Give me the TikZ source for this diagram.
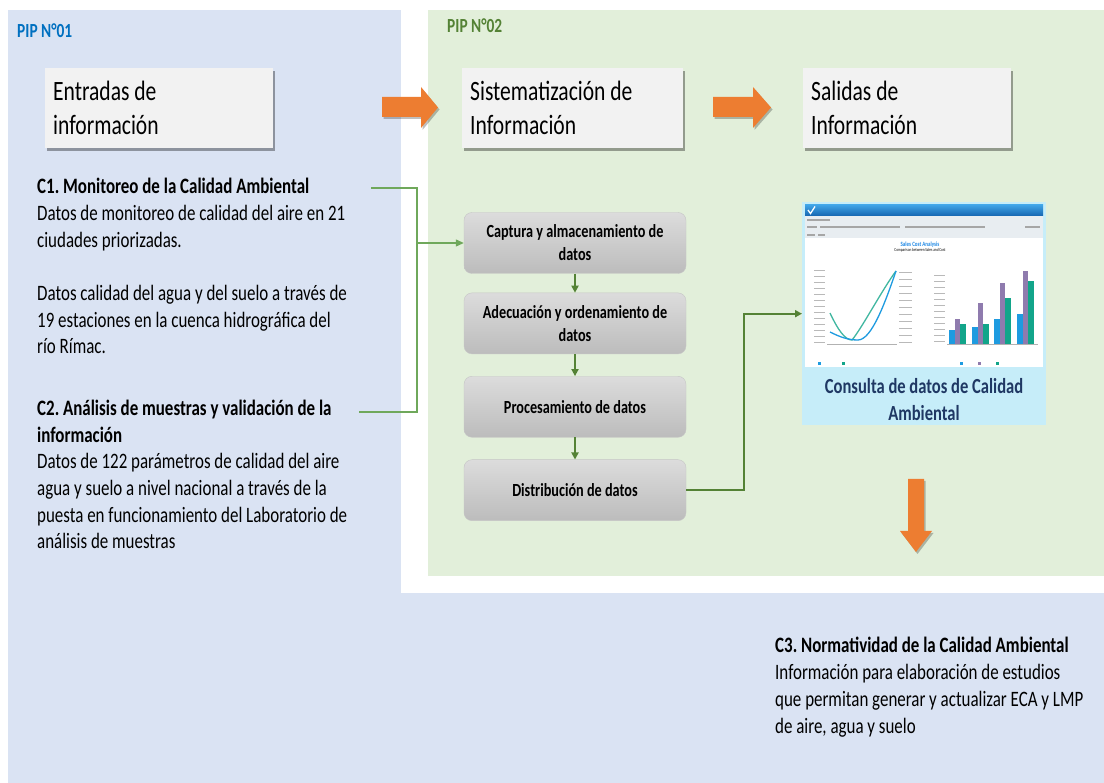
\documentclass[tikz,border=0pt]{standalone}
\usepackage{fontspec}
\setmainfont{Carlito}[FakeStretch=0.77]
\usetikzlibrary{positioning,shadows,arrows.meta}
\frenchspacing
\definecolor{pipblue}{HTML}{DAE3F3}
\definecolor{pipgreen}{HTML}{E2EFDA}
\definecolor{pipone}{HTML}{0070C0}
\definecolor{piptwo}{HTML}{548235}
\definecolor{boxgray}{HTML}{F2F2F2}
\definecolor{flowgreen}{HTML}{548235}
\definecolor{linkgreen}{HTML}{6FA85B}
\definecolor{arroworange}{HTML}{ED7D31}
\definecolor{proctop}{HTML}{DCDCDC}
\definecolor{procbot}{HTML}{BCBCBC}
\definecolor{capblue}{HTML}{C6EDF9}
\definecolor{capnavy}{HTML}{1F3864}
\definecolor{headtop}{HTML}{3FA3E6}
\definecolor{headbot}{HTML}{1565B0}
\definecolor{toolgray}{HTML}{E8EDF1}
\definecolor{chartblue}{HTML}{1E88E5}
\definecolor{barblue}{HTML}{1E9BE0}
\definecolor{barpurple}{HTML}{8F7BAE}
\definecolor{barteal}{HTML}{12A58A}
\begin{document}
\begin{tikzpicture}[x=1pt, y=-1pt, node distance=22pt,
  titlebox/.style={fill=boxgray, anchor=north west, minimum height=80pt, inner xsep=8pt, align=flush left,
    font=\fontsize{28}{34}\selectfont, drop shadow={shadow xshift=2pt, shadow yshift=-3pt, fill=black, opacity=.35}},
  proc/.style={draw=gray!45, rounded corners=8pt, top color=proctop, bottom color=procbot,
    minimum width=222pt, minimum height=61pt, align=center, font=\fontsize{18.5}{23}\selectfont\bfseries},
  txt/.style={anchor=base west, inner sep=0pt, align=left, font=\fontsize{22}{26.7}\selectfont},
  link/.style={draw=linkgreen, line width=1.2pt},
  flow/.style={draw=flowgreen, line width=1.8pt, -{Triangle[length=7pt,width=7pt]}},
  blockarrow/.style={fill=arroworange, drop shadow={shadow xshift=1.5pt, shadow yshift=-2pt, fill=black, opacity=.25}}]
\useasboundingbox (0,0) rectangle (1104,783);

% fondos
\fill[pipblue] (8,10) rectangle (1104,783);
\fill[white] (401,10) rectangle (1104,593);
\fill[pipgreen] (428,10) rectangle (1104,576);

\node[txt, text=pipone, font=\fontsize{20}{24}\selectfont\bfseries] (pip1) at (17,38) {PIP N°01};
\node[txt, text=piptwo, font=\fontsize{20}{24}\selectfont\bfseries] (pip2) at (447,33) {PIP N°02};

\node[titlebox, text width=212pt] (entradas) at (45,68) {Entradas de\\información};
\node[titlebox, text width=205pt] (sistema) at (462,68) {Sistematización de\\Información};
\node[titlebox, text width=192pt] (salidas) at (803,68) {Salidas de\\Información};

\path[blockarrow] (382,97) -- (421,97) -- (421,87) -- (438,107.5) -- (421,128) -- (421,117) -- (382,117) -- cycle;
\path[blockarrow] (713,97) -- (753,97) -- (753,87) -- (771,107.5) -- (753,128) -- (753,117) -- (713,117) -- cycle;
\path[blockarrow] (908,479) -- (924,479) -- (924,531) -- (932,531) -- (916,552) -- (900,531) -- (908,531) -- cycle;

% anclados en la linea base de la ultima linea
\node[txt] (c1) at (37,354) {\textbf{C1. Monitoreo de la Calidad Ambiental}\\Datos de monitoreo de calidad del aire en 21\\ciudades priorizadas.\\[26.7pt]Datos calidad del agua y del suelo a través de\\19 estaciones en la cuenca hidrográfica del\\río Rímac.};
\node[txt] (c2) at (37,549) {\textbf{C2. Análisis de muestras y validación de la}\\\textbf{información}\\Datos de 122 parámetros de calidad del aire\\agua y suelo a nivel nacional a través de la\\puesta en funcionamiento del Laboratorio de\\análisis de muestras};
\node[txt] (c3) at (775,733) {\textbf{C3. Normatividad de la Calidad Ambiental}\\Información para elaboración de estudios\\que permitan generar y actualizar ECA y LMP\\de aire, agua y suelo};

\node[proc] (captura) at (575,243) {Captura y almacenamiento de\\datos};
\node[proc, below=19pt of captura] (adecuacion) {Adecuación y ordenamiento de\\datos};
\node[proc, below=of adecuacion] (proceso) {Procesamiento de datos};
\node[proc, below=of proceso] (distrib) {Distribución de datos};

\draw[flow] (captura) -- (adecuacion);
\draw[flow] (adecuacion) -- (proceso);
\draw[flow] (proceso) -- (distrib);

\coordinate (c1end) at (371,188);
\coordinate (c2end) at (359,412);
\coordinate (bend) at (417,188);
\draw[link] (c1end) -- (bend) -- (bend |- c2end) -- (c2end);
\draw[link, -{Triangle[length=8pt,width=7pt]}] (bend |- captura.west) -- (captura.west);

% captura de pantalla
\node[fill=capblue, minimum width=244pt, minimum height=223pt, anchor=north west, inner sep=0pt] (shot) at (802,202) {};
\fill[white] (805,205) rectangle (1043,367);
\shade[top color=headtop, bottom color=headbot] (805,205) rectangle (1043,216);
\draw[white, line width=1.3pt] (808,210) -- (810.5,213.5) -- (815,206.5);
\fill[toolgray] (805,216) rectangle (1043,238);
\foreach \xa/\xb/\yy in {807/830/220, 807/817/227, 820/900/227, 905/985/227, 1025/1040/227, 807/815/235, 818/825/235}
  \draw[gray!70, line width=1.4pt] (\xa,\yy) -- (\xb,\yy);
\node[inner sep=0pt, font=\fontsize{6.5}{7}\selectfont\bfseries, text=chartblue] (charttitle) at (920,245) {Sales Cost Analysis};
\node[inner sep=0pt, font=\fontsize{4.5}{5}\selectfont, below=0.6pt of charttitle] (chartsub) {Comparison between Sales and Cost};

\foreach \yy in {270,276,...,342}
  \draw[gray!55, line width=0.8pt] (814,\yy) -- (825,\yy);
\foreach \yy in {272,279,...,342}
  \draw[gray!55, line width=0.8pt] (899,\yy) -- (912,\yy);
\foreach \yy in {275,281,...,342}
  \draw[gray!55, line width=0.8pt] (934,\yy) -- (945,\yy);
\draw[gray!60, line width=0.5pt] (827,344) -- (897,344);
\draw[gray!60, line width=0.5pt] (947,344) -- (1038,344);
\draw[barteal!80, line width=1.3pt] (830,313) .. controls (838,330) and (845,340) .. (852,340) .. controls (862,328) and (882,290) .. (896,271);
\draw[barblue, line width=1.3pt] (830,332) .. controls (840,337) and (848,340) .. (858,340) .. controls (872,340) and (886,300) .. (896,271);

\foreach \gx/\hb/\hp/\ht in {949/330/319/324, 972/327/303/324, 994/319/283/298, 1017/314/271/281} {
  \fill[barblue] (\gx,344) rectangle ({\gx+5.5},\hb);
  \fill[barpurple] ({\gx+5.5},344) rectangle ({\gx+11},\hp);
  \fill[barteal] ({\gx+11},344) rectangle ({\gx+16.5},\ht);
}
\foreach \lx/\lc in {818/barblue, 842/barteal, 960/barblue, 978/barpurple, 996/barteal}
  \fill[\lc] (\lx,362) rectangle ++(3,3);

\node[inner sep=0pt, align=center, text=capnavy, font=\fontsize{21.5}{27}\selectfont\bfseries] (consulta) at (924,400) {Consulta de datos de Calidad\\Ambiental};

\draw[flow] (distrib.east) -- ++(58,0) |- (shot.west);
\end{tikzpicture}
\end{document}
